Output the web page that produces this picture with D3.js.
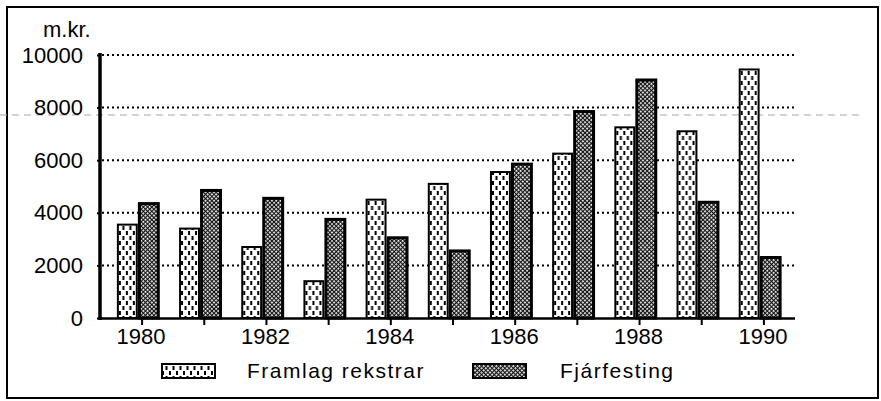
<!DOCTYPE html>
<html>
<head>
<meta charset="utf-8">
<script src="https://cdn.jsdelivr.net/npm/d3@7"></script>
<style>
  body { margin: 0; background: #fff; }
  svg text { font-family: "Liberation Sans", Arial, sans-serif; fill: #000; }
</style>
</head>
<body>
<div id="chart"></div>
<script>
// data (m.kr.)
var years = ["1980", "1981", "1982", "1983", "1984", "1985", "1986", "1987", "1988", "1989", "1990"];
var series = ["Framlag rekstrar", "Fjárfesting"];
var framlag = [3550, 3400, 2700, 1400, 4500, 5100, 5550, 6250, 7250, 7100, 9450];
var fjarfesting = [4350, 4850, 4550, 3750, 3050, 2550, 5850, 7850, 9050, 4400, 2300];
var yTicks = [0, 2000, 4000, 6000, 8000, 10000];
var xLabels = ["1980", "1982", "1984", "1986", "1988", "1990"];

var svgWidth = 881;
var svgHeight = 401;

var svg = d3.select("#chart")
  .append("svg")
  .attr("width", svgWidth)
  .attr("height", svgHeight);

// patterns for the two series
var defs = svg.append("defs");

var pLight = defs.append("pattern")
  .attr("id", "light")
  .attr("patternUnits", "userSpaceOnUse")
  .attr("width", 7)
  .attr("height", 10);
pLight.append("rect").attr("width", 7).attr("height", 10).attr("fill", "#fff");
pLight.append("rect").attr("x", 1).attr("y", 1).attr("width", 2).attr("height", 4).attr("fill", "#000");
pLight.append("rect").attr("x", 4.5).attr("y", 6).attr("width", 2).attr("height", 4).attr("fill", "#000");

var pDark = defs.append("pattern")
  .attr("id", "dark")
  .attr("patternUnits", "userSpaceOnUse")
  .attr("width", 3)
  .attr("height", 3)
  .attr("patternTransform", "rotate(45)");
pDark.append("rect").attr("width", 3).attr("height", 3).attr("fill", "#111");
pDark.append("rect").attr("width", 1.8).attr("height", 1.8).attr("fill", "#fff");

var fills = { "Framlag rekstrar": "url(#light)", "Fjárfesting": "url(#dark)" };

// outer frame
svg.append("rect")
  .attr("x", 7).attr("y", 7)
  .attr("width", 871).attr("height", 391)
  .attr("fill", "none")
  .attr("stroke", "#000")
  .attr("stroke-width", 2);

// faint scan line across the page
svg.append("line")
  .attr("x1", 0).attr("x2", 860)
  .attr("y1", 115).attr("y2", 115)
  .attr("stroke", "#aaa")
  .attr("stroke-width", 1)
  .attr("stroke-dasharray", "7,5");

// scales
var x0 = d3.scaleBand()
  .domain(years)
  .range([107, 791])
  .paddingInner(0.35)
  .paddingOuter(0.175);

var x1 = d3.scaleBand()
  .domain(series)
  .range([0, x0.bandwidth()])
  .paddingInner(0.12);

var y = d3.scaleLinear()
  .domain([0, 10000])
  .range([318, 55]);

// dotted gridlines
svg.append("g")
  .selectAll("line")
  .data(yTicks.filter(d => d > 0))
  .enter()
  .append("line")
  .attr("x1", 102)
  .attr("x2", 795)
  .attr("y1", d => y(d))
  .attr("y2", d => y(d))
  .attr("stroke", "#000")
  .attr("stroke-width", 2)
  .attr("stroke-dasharray", "2,3");

// bars
var rows = years.map(function(yr, i) {
  return { year: yr, values: [
    { key: series[0], value: framlag[i] },
    { key: series[1], value: fjarfesting[i] }
  ]};
});

var groups = svg.append("g")
  .selectAll("g")
  .data(rows)
  .enter()
  .append("g")
  .attr("transform", d => `translate(${x0(d.year)},0)`);

groups.selectAll("rect")
  .data(d => d.values)
  .enter()
  .append("rect")
  .attr("x", d => x1(d.key))
  .attr("y", d => y(d.value))
  .attr("width", x1.bandwidth())
  .attr("height", d => y(0) - y(d.value))
  .attr("fill", d => fills[d.key])
  .attr("stroke", "#000")
  .attr("stroke-width", d => d.key === series[0] ? 2 : 3);

// x axis
var xAxis = d3.axisBottom(x0)
  .tickSize(7)
  .tickPadding(3)
  .tickFormat(d => xLabels.indexOf(d) >= 0 ? d : "");

var gx = svg.append("g")
  .attr("transform", "translate(4,318)")
  .call(xAxis);
gx.select(".domain").remove();
gx.selectAll("line").attr("stroke", "#000").attr("stroke-width", 2);
gx.selectAll("text").style("font-size", "22px").attr("dx", "-1");

svg.append("line")
  .attr("x1", 100).attr("x2", 795)
  .attr("y1", 318.5).attr("y2", 318.5)
  .attr("stroke", "#000")
  .attr("stroke-width", 2.5);

// y axis
var yAxis = d3.axisLeft(y)
  .tickValues(yTicks)
  .tickFormat(d3.format("d"))
  .tickSize(3)
  .tickPadding(14);

var gy = svg.append("g")
  .attr("transform", "translate(100,0)")
  .call(yAxis);
gy.select(".domain").remove();
gy.selectAll("line").attr("stroke", "#000").attr("stroke-width", 2);
gy.selectAll("text").style("font-size", "22px");

svg.append("line")
  .attr("x1", 100).attr("x2", 100)
  .attr("y1", 53).attr("y2", 320)
  .attr("stroke", "#000")
  .attr("stroke-width", 3.5);

// unit label
svg.append("text")
  .attr("x", 43)
  .attr("y", 37)
  .style("font-size", "22px")
  .text("m.kr.");

// legend
var legendSwatchX = [162, 473];
var legendTextX = [247, 560];

var legend = svg.append("g")
  .selectAll("g")
  .data(series)
  .enter()
  .append("g");

legend.append("rect")
  .attr("x", (d, i) => legendSwatchX[i])
  .attr("y", 364)
  .attr("width", 53)
  .attr("height", 14)
  .attr("fill", d => fills[d])
  .attr("stroke", "#000")
  .attr("stroke-width", 2);

legend.append("text")
  .attr("x", (d, i) => legendTextX[i])
  .attr("y", 378)
  .style("font-size", "21px")
  .style("letter-spacing", "1.5px")
  .text(d => d);
</script>
</body>
</html>
